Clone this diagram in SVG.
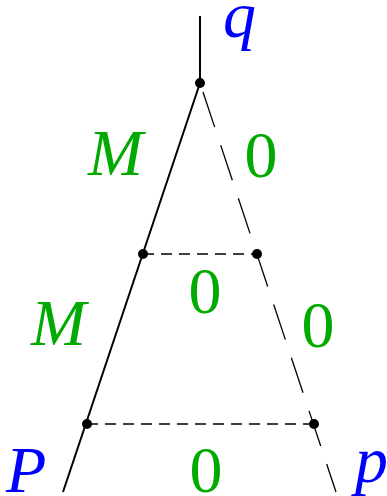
<svg xmlns="http://www.w3.org/2000/svg" width="387" height="496" viewBox="0 0 387 496">
<style>
.solid{stroke:#000;stroke-width:2;fill:none}
.dash{stroke:#000;stroke-width:1.3;fill:none;stroke-dasharray:11 7}
.dashlong{stroke:#000;stroke-width:1.3;fill:none;stroke-dasharray:37 19}
.dot{fill:#000}
text{font-family:"Liberation Serif","DejaVu Serif",serif;font-size:66px}
.b{fill:#0000ff;font-style:italic}
.g{fill:#00aa00}
.gi{fill:#00aa00;font-style:italic}
</style>
<g id="connectors">
<line class="solid" x1="200" y1="16" x2="200" y2="83"/>
<line class="solid" x1="200" y1="83" x2="63" y2="492"/>
<line class="dashlong" x1="203" y1="92" x2="336" y2="492"/>
<line class="dash" x1="143" y1="254" x2="257" y2="254"/>
<line class="dash" x1="87" y1="424" x2="314" y2="424"/>
</g>
<g id="n_top"><circle class="dot" cx="200" cy="83" r="5"/></g>
<g id="n_midL"><circle class="dot" cx="143" cy="254" r="5"/></g>
<g id="n_midR"><circle class="dot" cx="257" cy="254" r="5"/></g>
<g id="n_botL"><circle class="dot" cx="87" cy="424" r="5"/></g>
<g id="n_botR"><circle class="dot" cx="314" cy="424" r="5"/></g>
<g id="labels">
<text class="b" x="223" y="37">q</text>
<text class="gi" x="88" y="175">M</text>
<text class="g" x="261" y="177" text-anchor="middle">0</text>
<text class="g" x="205" y="313" text-anchor="middle">0</text>
<text class="gi" x="31" y="345">M</text>
<text class="g" x="318" y="347" text-anchor="middle">0</text>
<text class="b" x="6" y="492">P</text>
<text class="g" x="206" y="492" text-anchor="middle">0</text>
<text class="b" x="355" y="482">p</text>
</g>
</svg>
